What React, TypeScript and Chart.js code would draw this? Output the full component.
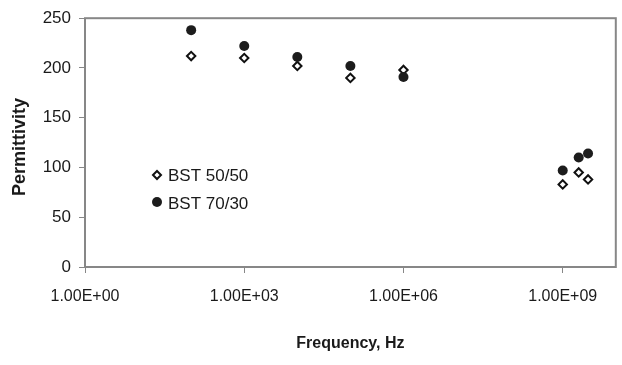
import React, { useEffect, useRef } from "react";
import { Chart, registerables } from "chart.js";

Chart.register(...registerables);

const frequencies = [1e2, 1e3, 1e4, 1e5, 1e6, 1e9, 2e9, 3e9];
const bst5050 = [212, 210, 202, 190, 198, 83, 95, 88];
const bst7030 = [238, 222, 211, 202, 191, 97, 110, 114];
const xTickValues = [1, 1e3, 1e6, 1e9];
const yTickStep = 50;
const seriesNames = ["BST 50/50", "BST 70/30"];
const yTitle = "Permittivity";
const xTitle = "Frequency, Hz";

const FONT = "'Liberation Sans', Arial, sans-serif";
const TEXT = "#1a1a1a";
const FRAME = "#878787";

function fmtExp(v: number): string {
  const e = Math.round(Math.log10(v));
  const m = v / Math.pow(10, e);
  const sign = e >= 0 ? "+" : "-";
  const ae = Math.abs(e);
  return m.toFixed(2) + "E" + sign + (ae < 10 ? "0" + ae : String(ae));
}

const framePlugin = {
  id: "frame",
  beforeDatasetsDraw(chart: any) {
    const { ctx, chartArea } = chart;
    ctx.save();
    ctx.strokeStyle = FRAME;
    ctx.lineWidth = 2;
    ctx.strokeRect(chartArea.left, chartArea.top, chartArea.right - chartArea.left, chartArea.bottom - chartArea.top);
    ctx.restore();
  },
};

const legendPlugin = {
  id: "customLegend",
  afterDraw(chart: any) {
    const { ctx } = chart;
    ctx.save();
    const mx = 157;
    const rows = [175, 203];
    ctx.beginPath();
    const r = 4;
    ctx.moveTo(mx - r, rows[0]);
    ctx.lineTo(mx, rows[0] - r);
    ctx.lineTo(mx + r, rows[0]);
    ctx.lineTo(mx, rows[0] + r);
    ctx.closePath();
    ctx.fillStyle = "#ffffff";
    ctx.fill();
    ctx.strokeStyle = "#111111";
    ctx.lineWidth = 2;
    ctx.stroke();
    ctx.beginPath();
    ctx.arc(mx, rows[1] - 1, 5, 0, Math.PI * 2);
    ctx.fillStyle = "#1c1c1c";
    ctx.fill();
    ctx.fillStyle = TEXT;
    ctx.font = "17px " + FONT;
    ctx.textBaseline = "middle";
    ctx.textAlign = "left";
    ctx.fillText(seriesNames[0], 168, rows[0] + 1);
    ctx.fillText(seriesNames[1], 168, rows[1] + 1);
    // y-axis title
    ctx.translate(20, 147);
    ctx.rotate(-Math.PI / 2);
    ctx.font = "bold 18px " + FONT;
    ctx.textAlign = "center";
    ctx.fillText(yTitle, 0, 0);
    ctx.restore();
  },
};

export default function App() {
  const ref = useRef<HTMLCanvasElement | null>(null);
  useEffect(() => {
    if (!ref.current) return;
    const chart = new Chart(ref.current, {
      type: "scatter",
      data: {
        datasets: [
          {
            label: seriesNames[0],
            data: frequencies.map((f, i) => ({ x: f, y: bst5050[i] })),
            pointStyle: "rectRot",
            pointRadius: 4.2,
            pointBorderWidth: 2,
            pointBackgroundColor: "#ffffff",
            pointBorderColor: "#111111",
            order: 1,
          },
          {
            label: seriesNames[1],
            data: frequencies.map((f, i) => ({ x: f, y: bst7030[i] })),
            pointStyle: "circle",
            pointRadius: 5,
            pointBorderWidth: 0,
            pointBackgroundColor: "#1c1c1c",
            pointBorderColor: "#1c1c1c",
            order: 0,
          },
        ],
      },
      options: {
        animation: false,
        responsive: true,
        maintainAspectRatio: false,
        layout: { padding: { left: 0, top: 16, right: 3, bottom: 0 } },
        plugins: {
          legend: { display: false },
          tooltip: { enabled: false },
        },
        scales: {
          x: {
            type: "logarithmic",
            min: 1,
            max: 1e10,
            afterBuildTicks(scale: any) {
              scale.ticks = xTickValues.map((v) => ({ value: v }));
            },
            afterFit(scale: any) {
              scale.height = 98;
            },
            grid: {
              display: true,
              drawOnChartArea: false,
              drawTicks: true,
              tickLength: 6,
              color: FRAME,
              lineWidth: 1,
            },
            border: { display: false },
            ticks: {
              autoSkip: false,
              maxRotation: 0,
              padding: 14,
              color: TEXT,
              font: { family: FONT, size: 16 },
              callback: (v: any) => fmtExp(Number(v)),
            },
            title: {
              display: true,
              text: xTitle,
              color: TEXT,
              font: { family: FONT, size: 16, weight: "bold" },
              padding: { top: 0, bottom: 12 },
            },
          },
          y: {
            min: 0,
            max: 250,
            afterFit(scale: any) {
              scale.width = 85;
            },
            grid: {
              display: true,
              drawOnChartArea: false,
              drawTicks: true,
              tickLength: 6,
              color: FRAME,
              lineWidth: 1,
            },
            border: { display: false },
            ticks: {
              stepSize: yTickStep,
              padding: 8,
              color: TEXT,
              font: { family: FONT, size: 17 },
            },
          },
        },
      },
      plugins: [framePlugin, legendPlugin],
    } as any);
    return () => chart.destroy();
  }, []);
  return (
    <div style={{ position: "absolute", left: 0, top: 0, width: 622, height: 365, background: "#ffffff" }}>
      <canvas ref={ref} />
    </div>
  );
}
